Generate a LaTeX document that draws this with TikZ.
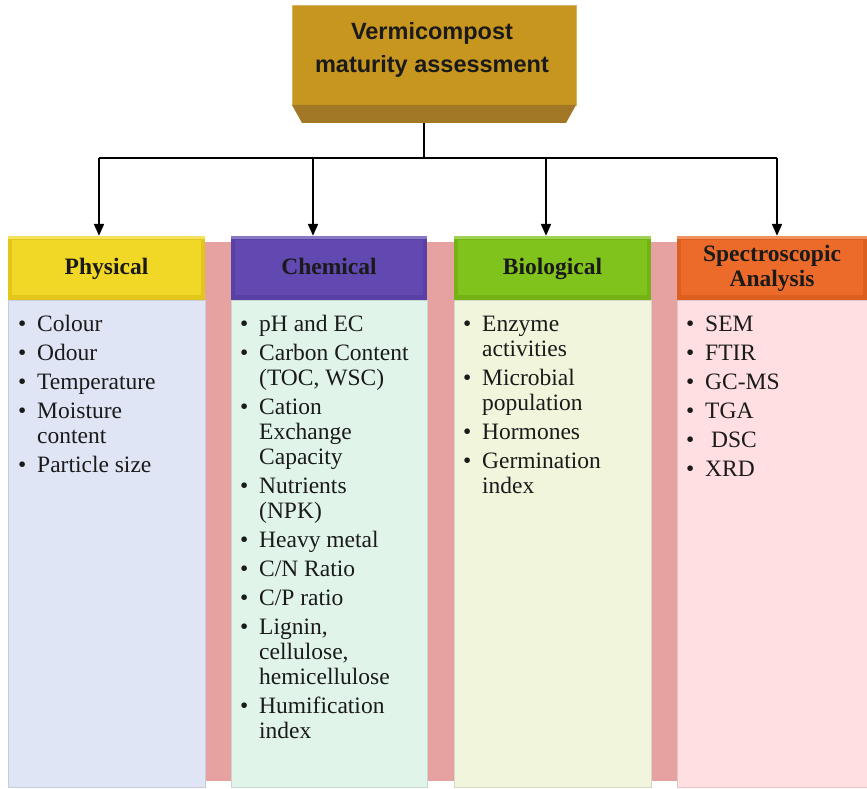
\documentclass[tikz,border=0pt]{standalone}
\usepackage{fontspec}
\setmainfont{Liberation Serif}
\newfontfamily\titlefontfam{Liberation Sans}
\usetikzlibrary{arrows.meta}
\definecolor{titlegold}{HTML}{C7961F}
\definecolor{titlebevel}{HTML}{A27826}
\definecolor{physhead}{HTML}{F2D826}
\definecolor{physdark}{HTML}{DDBF16}
\definecolor{chemhead}{HTML}{6149B1}
\definecolor{chemdark}{HTML}{553C9F}
\definecolor{biohead}{HTML}{80C31C}
\definecolor{biodark}{HTML}{6EAB12}
\definecolor{spechead}{HTML}{EC6B2A}
\definecolor{specdark}{HTML}{D65A1C}
\definecolor{physbody}{HTML}{DFE5F5}
\definecolor{chembody}{HTML}{E0F4EA}
\definecolor{biobody}{HTML}{F1F5DB}
\definecolor{specbody}{HTML}{FFDFE2}
\definecolor{pinkband}{HTML}{E6A1A1}
\definecolor{txt}{HTML}{1A1A1A}
\newcommand\bul{\makebox[19pt][l]{\textbullet}}
\newcommand\ind{\hspace*{19pt}}
\tikzset{
  headbox/.style={rectangle, inner sep=0pt, minimum height=64pt, text=txt,
    font=\fontsize{23.5}{25}\selectfont\bfseries, align=center},
  headone/.style={headbox, text height=16pt, text depth=4pt},
  bodybox/.style={rectangle, inner sep=0pt, draw=#1!75!gray, line width=0.8pt},
  listtext/.style={anchor=north west, inner sep=0pt, align=left, text=txt,
    font=\fontsize{23.5}{25}\selectfont},
  conn/.style={line width=2pt, -{Triangle[length=12pt,width=10pt]}},
}
\begin{document}
\begin{tikzpicture}[x=1pt,y=-1pt]
\useasboundingbox (0,0) rectangle (867,789);
\fill[white] (0,0) rectangle (867,789);
% pink band
\fill[pinkband] (150,242) rectangle (867,781);
% title box
\node[rectangle, inner sep=0pt, minimum width=284pt, minimum height=100pt,
  fill=titlegold, draw=titlegold!70!white, line width=0.8pt] (title) at (434,55) {};
\fill[titlebevel] (292,105) -- (576,105) -- (566,123) -- (302,123) -- cycle;
\coordinate (titlebot) at (424,123);
\node[inner sep=0pt, align=center, text=txt,
  font=\titlefontfam\fontsize{23.5}{33}\selectfont\bfseries] (titletext) at (432,50)
  {Vermicompost\\maturity assessment};
% bodies
\node[bodybox=physbody, fill=physbody, minimum width=197pt, minimum height=487pt] (physb) at (106.5,543.5) {};
\node[bodybox=chembody, fill=chembody, minimum width=196pt, minimum height=487pt] (chemb) at (329,543.5) {};
\node[bodybox=biobody, fill=biobody, minimum width=197pt, minimum height=487pt] (biob) at (552.5,543.5) {};
\node[bodybox=specbody, fill=specbody, minimum width=190pt, minimum height=487pt] (specb) at (772,543.5) {};
% headers (soft bevel)
\foreach \xa/\xb/\dk/\mn in {8/205/physdark/physhead, 231/427/chemdark/chemhead, 454/651/biodark/biohead, 677/867/specdark/spechead}{
  \fill[\dk!70!\mn] (\xa,236) rectangle (\xb,300);
  \fill[\mn] (\xa+4,240) rectangle (\xb-4,295);
  \fill[\mn!75!white] (\xa,236) rectangle (\xb,238.5);
}
\node[headone] (phys) at (106.5,268) {Physical};
\node[headone] (chem) at (329,268) {Chemical};
\node[headone] (bio) at (552.5,268) {Biological};
\node[headbox] (spec) at (772,268) {Spectroscopic\\Analysis};
% connectors
\coordinate (hub) at (424,158);
\coordinate (j1) at (99,158);
\coordinate (j2) at (313,158);
\coordinate (j3) at (546,158);
\coordinate (j4) at (777,158);
\draw[line width=1.5pt] (titlebot) -- (hub);
\draw[line width=2.5pt] (j1) -- (j4);
\draw[conn] (j1) -- (j1 |- phys.north);
\draw[conn] (j2) -- (j2 |- chem.north);
\draw[conn] (j3) -- (j3 |- bio.north);
\draw[conn] (j4) -- (j4 |- spec.north);
% lists
\node[listtext] (physl) at (18,313.5) {\strut\bul Colour\\[4pt]\bul Odour\\[4pt]\bul Temperature\\[4pt]\bul Moisture\\\ind content\\[4pt]\bul Particle size};
\node[listtext] (cheml) at (240,313.5) {\strut\bul pH and EC\\[4pt]\bul Carbon Content\\\ind (TOC, WSC)\\[4pt]\bul Cation\\\ind Exchange\\\ind Capacity\\[4pt]\bul Nutrients\\\ind (NPK)\\[4pt]\bul Heavy metal\\[4pt]\bul C/N Ratio\\[4pt]\bul C/P ratio\\[4pt]\bul Lignin,\\\ind cellulose,\\\ind hemicellulose\\[4pt]\bul Humification\\\ind index};
\node[listtext] (biol) at (463,313.5) {\strut\bul Enzyme\\\ind activities\\[4pt]\bul Microbial\\\ind population\\[4pt]\bul Hormones\\[4pt]\bul Germination\\\ind index};
\node[listtext] (specl) at (686,313.5) {\strut\bul SEM\\[4pt]\bul FTIR\\[4pt]\bul GC-MS\\[4pt]\bul TGA\\[4pt]\bul\hspace{6pt}DSC\\[4pt]\bul XRD};
\end{tikzpicture}
\end{document}
